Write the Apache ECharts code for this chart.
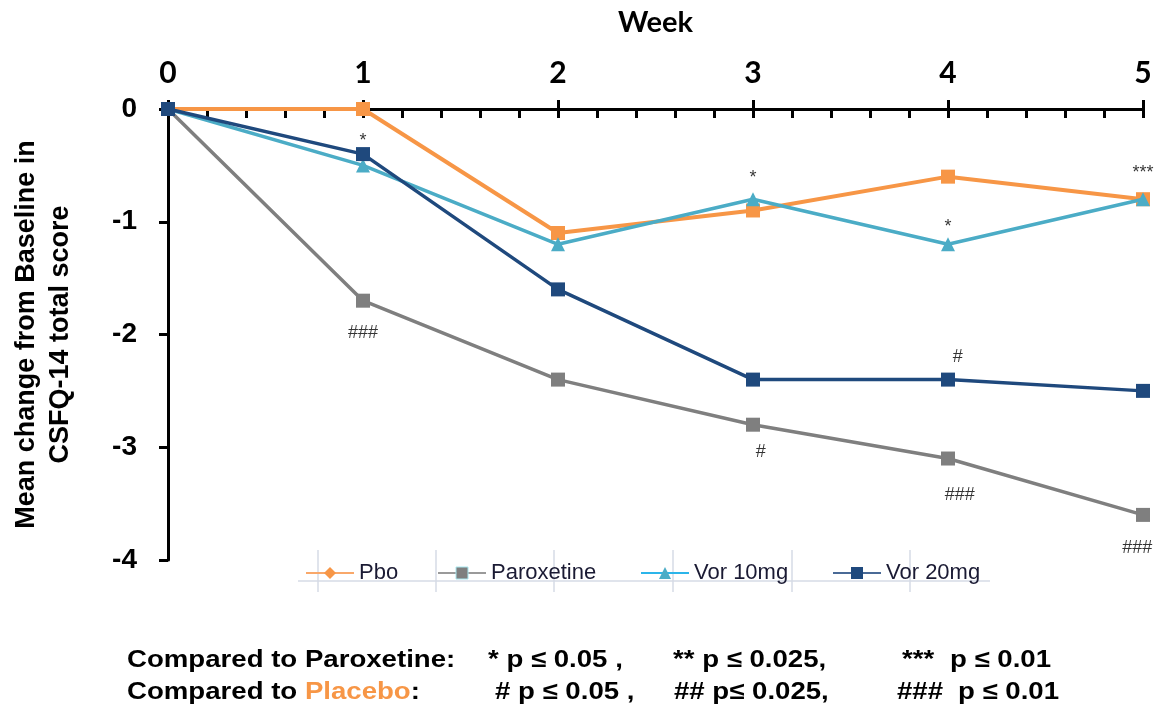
<!DOCTYPE html>
<html>
<head>
<meta charset="utf-8">
<script src="https://cdn.jsdelivr.net/npm/echarts@6/dist/echarts.min.js"></script>
<style>
  html, body { margin: 0; padding: 0; background: #ffffff; }
  #chart { width: 1169px; height: 711px; }
</style>
</head>
<body>
<div id="chart"></div>
<script>
// ---- data ----
const weeks = [0, 1, 2, 3, 4, 5];
const seriesNames = ['Pbo', 'Paroxetine', 'Vor 10mg', 'Vor 20mg'];
const pbo = [0, 0, -1.1, -0.9, -0.6, -0.8];
const paroxetine = [0, -1.7, -2.4, -2.8, -3.1, -3.6];
const vor10 = [0, -0.5, -1.2, -0.8, -1.2, -0.8];
const vor20 = [0, -0.4, -1.6, -2.4, -2.4, -2.5];
const yTicks = [0, -1, -2, -3, -4];
// significance markers (label anchor in week / score units)
const annotWeek = [1, 1, 3, 3.04, 4, 4.05, 4.06, 5, 4.97];
const annotScore = [-0.28, -1.99, -0.61, -3.04, -1.05, -2.2, -3.42, -0.57, -3.89];
const annotText = ['*', '###', '*', '#', '*', '#', '###', '***', '###'];
const footParox = ['* p \u2264 0.05 ,', '** p \u2264 0.025,', '***', 'p \u2264 0.01'];
const footPlacebo = ['# p \u2264 0.05 ,', '## p\u2264 0.025,', '###', 'p \u2264 0.01'];

const colors = ['#F79646', '#7F7F7F', '#4BACC6', '#1F497D'];
const legendSymbols = ['diamond', 'rect', 'triangle', 'rect'];
const pointSymbols = ['rect', 'rect', 'triangle', 'rect'];
const legendLineColors = ['#F9A86A', '#9A9A9A', '#2BB5EA', '#4A6A96'];
const legendLeft = [305, 437, 640, 832];
const valuesList = [pbo, paroxetine, vor10, vor20];

const FONT = '"Liberation Sans", Arial, sans-serif';
const FONT_C = 'Lato, "Open Sans", sans-serif';

const series = seriesNames.map((name, i) => ({
  name: name,
  type: 'line',
  symbol: legendSymbols[i],
  data: weeks.map((w, j) => ({ value: [w, valuesList[i][j]], symbol: pointSymbols[i] })),
  symbolSize: 14,
  lineStyle: { color: colors[i], width: i === 0 ? 4 : 3.5 },
  itemStyle: { color: colors[i] },
  z: 2 + i
}));

series.push({
  name: 'sig',
  type: 'scatter',
  silent: true,
  symbolSize: 0,
  data: annotText.map((t, k) => ({ value: [annotWeek[k], annotScore[k]], txt: t })),
  label: {
    show: true,
    position: 'inside',
    formatter: p => p.data.txt,
    color: '#000',
    fontFamily: FONT,
    fontSize: 18
  },
  z: 10
});

const legends = seriesNames.map((name, i) => ({
  data: [{
    name: name,
    itemStyle: i === 1 ? { color: colors[i], borderColor: '#A8E8F0', borderWidth: 1 } : { color: colors[i] },
    lineStyle: { color: legendLineColors[i], width: 2 }
  }],
  left: legendLeft[i],
  top: 562,
  padding: 0,
  itemWidth: 48,
  itemHeight: 15,
  itemGap: 0,
  textStyle: { fontFamily: FONT, fontSize: 22, color: '#1a1a33' },
  selectedMode: false
}));

function footText(x, y, txt, rich) {
  const style = { x: 0, y: 0, verticalAlign: 'middle', font: 'bold 24px ' + FONT, fill: '#000', text: txt };
  if (rich) style.rich = rich;
  return { type: 'text', x: x, y: y, scaleX: 1.15, scaleY: 1, silent: true, style: style };
}

const option = {
  backgroundColor: '#ffffff',
  animation: false,
  grid: { left: 168, right: 26, top: 109, bottom: 151, containLabel: false, outerBoundsMode: 'none' },
  legend: legends,
  xAxis: [{
    type: 'value',
    position: 'top',
    min: 0, max: 5, interval: 1,
    name: 'Week',
    nameLocation: 'middle',
    nameGap: 72,
    nameTextStyle: { fontFamily: FONT_C, fontSize: 29, fontWeight: 'bold', color: '#000' },
    axisLine: { show: true, onZero: false, lineStyle: { color: '#000', width: 3 } },
    axisTick: { show: true, inside: true, length: 9, lineStyle: { color: '#000', width: 3 } },
    minorTick: { show: true, splitNumber: 5, length: 9, lineStyle: { color: '#000', width: 3 } },
    axisLabel: { margin: 21, fontFamily: FONT_C, fontSize: 30, fontWeight: 'bold', color: '#000' },
    splitLine: { show: false }
  }, {
    type: 'value',
    position: 'top',
    min: 0, max: 5, interval: 1,
    axisLine: { show: false },
    axisTick: { show: true, inside: false, length: 9, lineStyle: { color: '#000', width: 3 } },
    axisLabel: { show: false },
    splitLine: { show: false }
  }],
  yAxis: {
    type: 'value',
    min: -4, max: 0, interval: 1,
    name: 'Mean change from Baseline in\nCSFQ-14 total score',
    nameLocation: 'middle',
    nameGap: 90,
    nameRotate: 90,
    nameTextStyle: { fontFamily: FONT, fontSize: 27, fontWeight: 'bold', color: '#000', lineHeight: 34 },
    axisLine: { show: true, onZero: false, lineStyle: { color: '#000', width: 3 } },
    axisTick: { show: true, inside: false, length: 9, lineStyle: { color: '#000', width: 3 } },
    axisLabel: { margin: 31, fontFamily: FONT, fontSize: 28, fontWeight: 'bold', color: '#000',
      formatter: v => (yTicks.indexOf(v) >= 0 ? String(v) : '') },
    splitLine: { show: false }
  },
  graphic: [
    // legend frame lines
    { type: 'line', shape: { x1: 298, y1: 581, x2: 990, y2: 581 }, style: { stroke: '#d6dbe6', lineWidth: 1.5 }, silent: true },
    ...[318, 436, 554, 673, 792, 910].map(x => ({ type: 'line', shape: { x1: x, y1: 550, x2: x, y2: 592 }, style: { stroke: '#d6dbe6', lineWidth: 1.5 }, silent: true })),
    footText(127, 660, 'Compared to Paroxetine:'),
    footText(488, 660, footParox[0]),
    footText(673, 660, footParox[1]),
    footText(902, 660, footParox[2]),
    footText(950, 660, footParox[3]),
    footText(127, 692, '{a|Compared to }{b|Placebo}{a|:}', {
      a: { font: 'bold 24px ' + FONT, fill: '#000' },
      b: { font: 'bold 24px ' + FONT, fill: '#F79646' } }),
    footText(495, 692, footPlacebo[0]),
    footText(674, 692, footPlacebo[1]),
    footText(897, 692, footPlacebo[2]),
    footText(958, 692, footPlacebo[3])
  ],
  series: series
};

const chart = echarts.init(document.getElementById('chart'), null, { renderer: 'canvas' });
chart.setOption(option);
</script>
</body>
</html>
